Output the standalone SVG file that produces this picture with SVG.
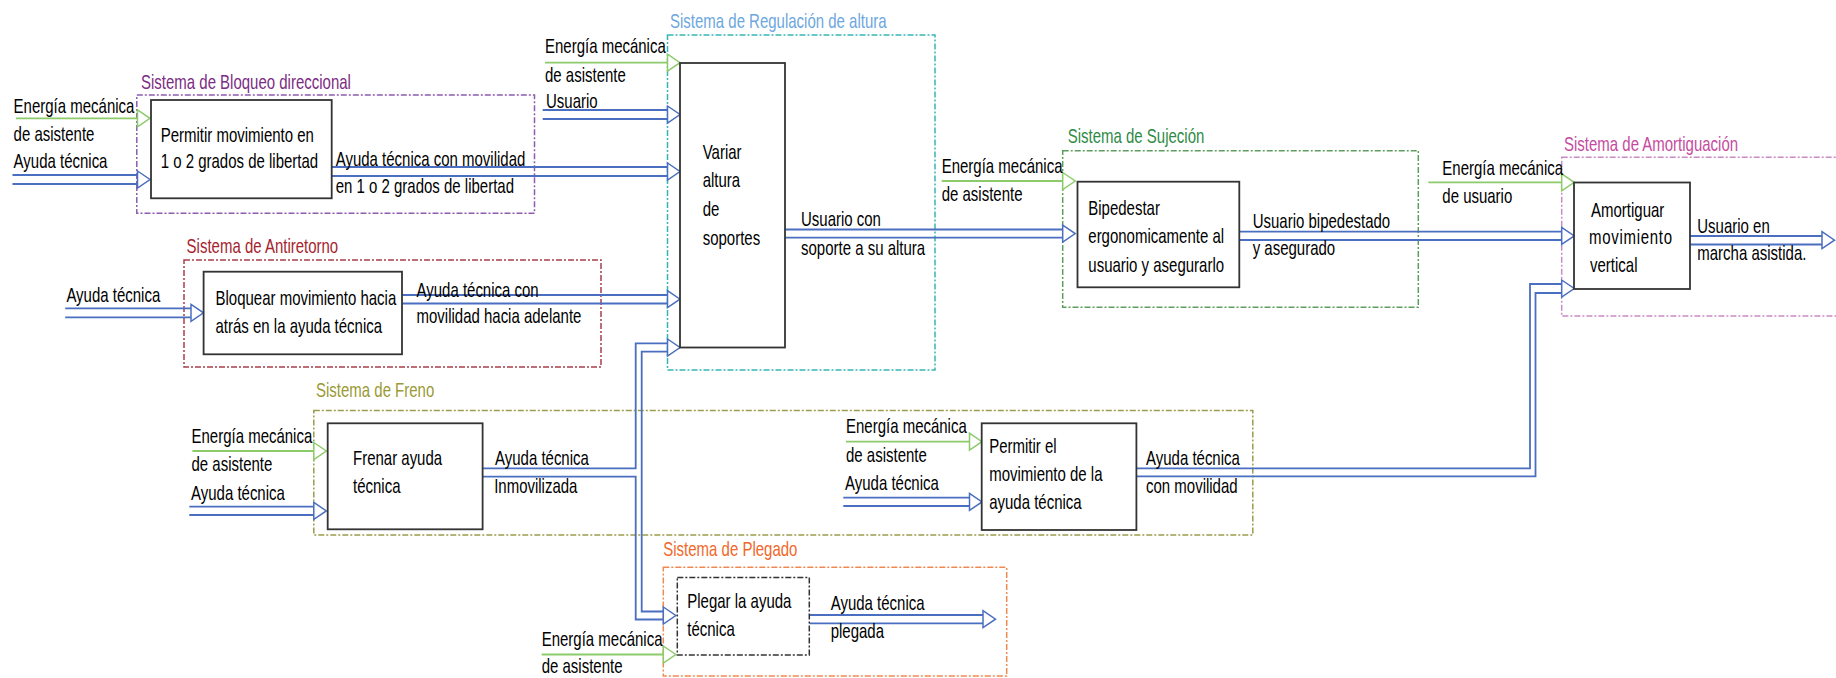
<svg xmlns="http://www.w3.org/2000/svg" xmlns:xlink="http://www.w3.org/1999/xlink" width="1836" height="678" viewBox="0 0 1836 678">
<defs>
<style>
.t{font-family:"Liberation Sans",Arial,sans-serif;font-size:21px;fill:#000}
.box{fill:#fff;stroke:#333;stroke-width:1.8}
.grp{fill:none;stroke-width:1.5;stroke-dasharray:6 2 2 2}
.bl{fill:none;stroke:#4A6FC0;stroke-width:1.8}
.gr{fill:none;stroke:#8DCB6A;stroke-width:1.8}
</style>
<polygon id="ahb" points="0,-8.5 12.5,0 0,8.5" fill="#fff" stroke="#4A6FC0" stroke-width="1.5"/>
<polygon id="ahg" points="0,-8.5 12.5,0 0,8.5" fill="#fff" stroke="#8DCB6A" stroke-width="1.5"/>
</defs>
<rect x="0" y="0" width="1836" height="678" fill="#fff"/>

<!-- system containers -->
<g id="sistema-bloqueo">
<rect class="grp" x="136.8" y="95" width="397.7" height="118.3" stroke="#8E5BAE"/>
<text class="t" style="fill:#7B2C83" transform="matrix(.714 0 0 1 141 89.3)">Sistema de Bloqueo direccional</text>
</g>
<g id="sistema-regulacion">
<rect class="grp" x="667.5" y="35" width="267.5" height="335" stroke="#37B5B5"/>
<text class="t" style="fill:#6DA7DE" transform="matrix(.714 0 0 1 670 28.3)">Sistema de Regulación de altura</text>
</g>
<g id="sistema-antiretorno">
<rect class="grp" x="184" y="260" width="417" height="107" stroke="#A8404C"/>
<text class="t" style="fill:#A5242E" transform="matrix(.714 0 0 1 186.6 252.7)">Sistema de Antiretorno</text>
</g>
<g id="sistema-sujecion">
<rect class="grp" x="1062.7" y="150.7" width="355.6" height="156.6" stroke="#5E9E5E"/>
<text class="t" style="fill:#2F8A47" transform="matrix(.714 0 0 1 1067.7 142.7)">Sistema de Sujeción</text>
</g>
<g id="sistema-amortiguacion">
<rect class="grp" x="1561.7" y="157.3" width="290" height="158.7" stroke="#C98BC4"/>
<text class="t" style="fill:#C54BA0" transform="matrix(.714 0 0 1 1564 150.7)">Sistema de Amortiguación</text>
</g>
<g id="sistema-freno">
<rect class="grp" x="313.8" y="410.5" width="939" height="124.5" stroke="#9C9C4C"/>
<text class="t" style="fill:#9A9A34" transform="matrix(.714 0 0 1 316 396.7)">Sistema de Freno</text>
</g>
<g id="sistema-plegado">
<rect class="grp" x="663.3" y="567.3" width="343.4" height="108.7" stroke="#F08A50"/>
<text class="t" style="fill:#F0682A" transform="matrix(.714 0 0 1 663.3 556)">Sistema de Plegado</text>
</g>

<!-- connectors -->
<g id="connectors">
<path class="gr" d="M16 118.3H137.5"/>
<use xlink:href="#ahg" x="137.5" y="118.3"/>
<path class="bl" d="M12.5 175H137.5M12.5 184H137.5"/>
<use xlink:href="#ahb" x="137.5" y="179.5"/>
<path class="bl" d="M331.7 167H667.5M331.7 176H667.5"/>
<use xlink:href="#ahb" x="667.5" y="171.5"/>
<path class="gr" d="M545 62.7H667.5"/>
<use xlink:href="#ahg" x="667.5" y="62.7"/>
<path class="bl" d="M542.7 110H667.5M542.7 119H667.5"/>
<use xlink:href="#ahb" x="667.5" y="114.5"/>
<path class="bl" d="M65.2 308.3H191M65.2 317.3H191"/>
<use xlink:href="#ahb" x="191" y="312.8"/>
<path class="bl" d="M402 295H667.5M402 303.5H667.5"/>
<use xlink:href="#ahb" x="667.5" y="299.2"/>
<path class="bl" d="M482.6 468.3H635.7V343.3H667.5"/>
<path class="bl" d="M482.6 476.7H635.7V619.5H663.3"/>
<path class="bl" d="M667.5 351.7H641.7V611.5H663.3"/>
<use xlink:href="#ahb" x="667.5" y="347.5"/>
<use xlink:href="#ahb" x="663.3" y="615.5"/>
<path class="bl" d="M785 229.5H1062.7M785 237.7H1062.7"/>
<use xlink:href="#ahb" x="1062.7" y="233.6"/>
<path class="gr" d="M941.7 181H1062.7"/>
<use xlink:href="#ahg" x="1062.7" y="181"/>
<path class="bl" d="M1239.3 231.7H1561.7M1239.3 240H1561.7"/>
<use xlink:href="#ahb" x="1561.7" y="235.9"/>
<path class="gr" d="M1428.3 182.3H1561.7"/>
<use xlink:href="#ahg" x="1561.7" y="182.3"/>
<path class="bl" d="M1690 236H1822M1690 244.5H1822"/>
<use xlink:href="#ahb" x="1822" y="240.2"/>
<path class="bl" d="M1136.4 468.4H1530V284H1561.7"/>
<path class="bl" d="M1136.4 476.4H1535.5V293H1561.7"/>
<use xlink:href="#ahb" x="1561.7" y="288.5"/>
<path class="gr" d="M192.4 451H313.8"/>
<use xlink:href="#ahg" x="313.8" y="451"/>
<path class="bl" d="M189.3 506.7H313.8M189.3 515H313.8"/>
<use xlink:href="#ahb" x="313.8" y="510.9"/>
<path class="gr" d="M846 441.7H969.5"/>
<use xlink:href="#ahg" x="969.5" y="441.7"/>
<path class="bl" d="M843.3 497.7H969.5M843.3 506H969.5"/>
<use xlink:href="#ahb" x="969.5" y="501.9"/>
<path class="gr" d="M541.7 654.5H663.3"/>
<use xlink:href="#ahg" x="663.3" y="654.5"/>
<path class="bl" d="M809.3 615H983M809.3 623.3H983"/>
<use xlink:href="#ahb" x="983" y="619.2"/>
</g>

<!-- function nodes -->
<g id="node-permitir-movimiento">
<rect class="box" x="151" y="100" width="180.7" height="98.3"/>
<text class="t" transform="matrix(.714 0 0 1 160.7 141.7)"><tspan x="0" y="0">Permitir movimiento en</tspan><tspan x="0" y="26.7">1 o 2 grados de libertad</tspan></text>
</g>
<g id="node-variar-altura">
<rect class="box" x="680" y="63" width="105" height="284.5"/>
<text class="t" transform="matrix(.714 0 0 1 702.7 158.8)"><tspan x="0" y="0">Variar</tspan><tspan x="0" y="28.6">altura</tspan><tspan x="0" y="57.2">de</tspan><tspan x="0" y="85.8">soportes</tspan></text>
</g>
<g id="node-bloquear">
<rect class="box" x="203.6" y="271.7" width="198.4" height="82.6"/>
<text class="t" transform="matrix(.714 0 0 1 215.5 305)"><tspan x="0" y="0">Bloquear movimiento hacia</tspan><tspan x="0" y="28.3">atrás en la ayuda técnica</tspan></text>
</g>
<g id="node-bipedestar">
<rect class="box" x="1077.5" y="181.7" width="161.8" height="105.6"/>
<text class="t" transform="matrix(.714 0 0 1 1088.3 215)"><tspan x="0" y="0">Bipedestar</tspan><tspan x="0" y="28.3">ergonomicamente al</tspan><tspan x="0" y="56.6">usuario y asegurarlo</tspan></text>
</g>
<g id="node-amortiguar">
<rect class="box" x="1574" y="182.5" width="116" height="106.5"/>
<text class="t" transform="matrix(.714 0 0 1 1591 216.7)"><tspan x="0" y="0">Amortiguar</tspan><tspan x="-2.8" y="27.3" letter-spacing="1">movimiento</tspan><tspan x="-1.4" y="55">vertical</tspan></text>
</g>
<g id="node-frenar">
<rect class="box" x="327.7" y="423.3" width="154.9" height="106"/>
<text class="t" transform="matrix(.714 0 0 1 353 465)"><tspan x="0" y="0">Frenar ayuda</tspan><tspan x="0" y="28.3">técnica</tspan></text>
</g>
<g id="node-permitir-el-movimiento">
<rect class="box" x="981.7" y="423.3" width="154.7" height="106.7"/>
<text class="t" transform="matrix(.714 0 0 1 989.2 453.3)"><tspan x="0" y="0">Permitir el</tspan><tspan x="0" y="28.2">movimiento de la</tspan><tspan x="0" y="56">ayuda técnica</tspan></text>
</g>
<g id="node-plegar">
<rect class="box" x="677.3" y="577.5" width="132" height="77.5" style="stroke-dasharray:6 2 2 2;stroke-width:1.5"/>
<text class="t" transform="matrix(.714 0 0 1 687.3 607.7)"><tspan x="0" y="0">Plegar la ayuda</tspan><tspan x="0" y="28.3">técnica</tspan></text>
</g>

<!-- connector labels -->
<g id="labels">
<text class="t" transform="matrix(.714 0 0 1 13.6 113.3)"><tspan x="0" y="0">Energía mecánica</tspan><tspan x="0" y="27.7">de asistente</tspan></text>
<text class="t" transform="matrix(.714 0 0 1 13.6 168.3)">Ayuda técnica</text>
<text class="t" transform="matrix(.714 0 0 1 335.7 166)"><tspan x="0" y="0">Ayuda técnica con movilidad</tspan><tspan x="0" y="27.3">en 1 o 2 grados de libertad</tspan></text>
<text class="t" transform="matrix(.714 0 0 1 545 53.3)"><tspan x="0" y="0">Energía mecánica</tspan><tspan x="0" y="28.4">de asistente</tspan></text>
<text class="t" transform="matrix(.714 0 0 1 546 108.3)">Usuario</text>
<text class="t" transform="matrix(.714 0 0 1 801 226)"><tspan x="0" y="0">Usuario con</tspan><tspan x="0" y="29">soporte a su altura</tspan></text>
<text class="t" transform="matrix(.714 0 0 1 66.4 301.7)">Ayuda técnica</text>
<text class="t" transform="matrix(.714 0 0 1 416.5 297)"><tspan x="0" y="0">Ayuda técnica con</tspan><tspan x="0" y="26">movilidad hacia adelante</tspan></text>
<text class="t" transform="matrix(.714 0 0 1 941.7 173.3)"><tspan x="0" y="0">Energía mecánica</tspan><tspan x="0" y="27.4">de asistente</tspan></text>
<text class="t" transform="matrix(.714 0 0 1 1252.7 228.3)"><tspan x="0" y="0">Usuario bipedestado</tspan><tspan x="0" y="26.7">y asegurado</tspan></text>
<text class="t" transform="matrix(.714 0 0 1 1442.3 175)"><tspan x="0" y="0">Energía mecánica</tspan><tspan x="0" y="27.7">de usuario</tspan></text>
<text class="t" transform="matrix(.714 0 0 1 1697.3 232.7)"><tspan x="0" y="0">Usuario en</tspan><tspan x="0" y="27.3">marcha asistida.</tspan></text>
<text class="t" transform="matrix(.714 0 0 1 191.5 443.3)"><tspan x="0" y="0">Energía mecánica</tspan><tspan x="0" y="27.7">de asistente</tspan></text>
<text class="t" transform="matrix(.714 0 0 1 191 500)">Ayuda técnica</text>
<text class="t" transform="matrix(.714 0 0 1 495 465)"><tspan x="0" y="0">Ayuda técnica</tspan><tspan x="-1.2" y="28.3">Inmovilizada</tspan></text>
<text class="t" transform="matrix(.714 0 0 1 846 433.3)"><tspan x="0" y="0">Energía mecánica</tspan><tspan x="0" y="28.4">de asistente</tspan></text>
<text class="t" transform="matrix(.714 0 0 1 845 490.3)">Ayuda técnica</text>
<text class="t" transform="matrix(.714 0 0 1 1146 465)"><tspan x="0" y="0">Ayuda técnica</tspan><tspan x="0" y="28.3">con movilidad</tspan></text>
<text class="t" transform="matrix(.714 0 0 1 541.7 646)"><tspan x="0" y="0">Energía mecánica</tspan><tspan x="0" y="27.3">de asistente</tspan></text>
<text class="t" transform="matrix(.714 0 0 1 830.7 610)"><tspan x="0" y="0">Ayuda técnica</tspan><tspan x="0" y="28.3">plegada</tspan></text>
</g>
</svg>
